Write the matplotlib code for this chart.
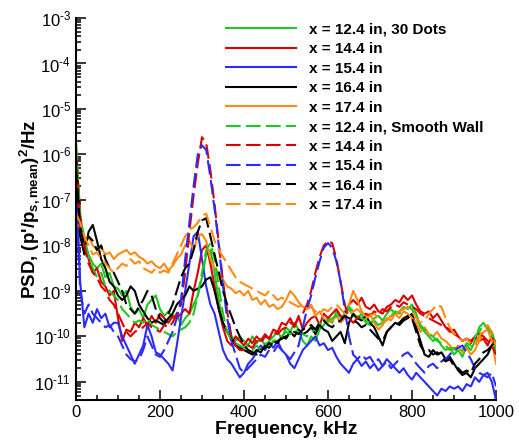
import numpy as np
import matplotlib
matplotlib.use('Agg')
import matplotlib.pyplot as plt
from matplotlib.ticker import MultipleLocator, LogLocator, FuncFormatter, FixedLocator

plt.rcParams['font.family'] = 'Liberation Sans'
plt.rcParams['mathtext.fontset'] = 'custom'
plt.rcParams['mathtext.rm'] = 'Liberation Sans'
plt.rcParams['mathtext.bf'] = 'Liberation Sans:bold'
plt.rcParams['mathtext.it'] = 'Liberation Sans:italic'

# frequency samples, kHz
freq = list(range(0, 1001, 10))

# log10 of PSD, one value per 10 kHz
# --- 30 dots ---
dots_124 = [-5.7, -7.6, -7.9, -8.2, -8.4, -8.5, -8.4, -8.7, -8.6, -8.9,
            -8.95, -9.1, -9.0, -9.35, -9.5, -9.4, -9.6, -9.3, -9.2, -9.1,
            -9.4, -9.55, -9.45, -9.6, -9.5, -9.75, -9.6, -9.5, -9.3, -9.1,
            -8.7, -8.2, -8.1, -8.6, -9.2, -9.7, -9.9, -10.0, -10.1, -10.0,
            -10.1, -10.2, -10.0, -10.15, -10.05, -10.2, -10.1, -10.0, -9.9, -10.05,
            -9.8, -9.9, -9.7, -9.85, -10.1, -10.2, -10.0, -10.1, -9.85, -9.75,
            -9.6, -9.7, -9.45, -9.6, -9.5, -9.4, -9.55, -9.6, -9.5, -9.7,
            -9.75, -9.6, -9.55, -9.65, -9.5, -9.4, -9.5, -9.45, -9.35, -9.4,
            -9.3, -9.5, -9.8, -9.9, -10.0, -10.1, -10.05, -10.2, -10.3, -10.25,
            -10.4, -10.3, -10.45, -10.2, -10.3, -10.1, -9.8, -9.7, -9.85, -9.9,
            -10.2]
dots_144 = [-5.9, -7.3, -8.1, -8.3, -8.6, -8.5, -8.8, -8.9, -9.1, -9.0,
            -9.6, -10.1, -9.85, -9.9, -9.7, -9.8, -9.6, -9.75, -9.55, -9.7,
            -9.5, -9.6, -9.7, -9.55, -9.6, -9.5, -9.4, -9.5, -9.0, -8.6,
            -8.1, -8.0, -8.4, -8.9, -9.4, -9.8, -10.1, -10.2, -10.0, -10.1,
            -10.2, -10.05, -10.15, -10.0, -10.1, -9.95, -10.05, -9.85, -9.9, -9.7,
            -9.75, -9.6, -9.8, -9.55, -9.85, -9.7, -9.6, -9.55, -9.75, -9.5,
            -9.6, -9.5, -9.4, -9.55, -9.6, -9.3, -9.2, -9.3, -9.15, -9.35,
            -9.4, -9.3, -9.45, -9.5, -9.35, -9.3, -9.2, -9.25, -9.1, -9.2,
            -9.1, -9.3, -9.45, -9.5, -9.45, -9.6, -9.5, -9.65, -9.8, -9.9,
            -9.85, -10.0, -10.1, -10.05, -10.15, -10.0, -10.1, -10.05, -10.2, -10.0,
            -10.3]
dots_154 = [-6.5, -8.8, -9.8, -9.5, -9.7, -9.4, -9.6, -9.5, -9.8, -9.7,
            -9.7, -10.0, -10.2, -10.4, -10.6, -10.4, -10.2, -9.75, -10.0, -10.35,
            -10.4, -10.5, -10.6, -10.75, -10.2, -9.6, -9.0, -8.4, -7.8, -7.7,
            -8.3, -8.9, -9.3, -9.5, -9.9, -10.3, -10.5, -10.6, -10.75, -10.9,
            -10.8, -10.6, -10.5, -10.35, -10.2, -10.3, -10.15, -10.25, -10.1, -10.3,
            -10.4, -10.6, -10.7, -10.5, -10.3, -10.2, -10.1, -10.0, -10.2, -10.15,
            -10.3, -10.25, -10.45, -10.6, -10.7, -10.8, -10.6, -10.5, -10.65, -10.55,
            -10.7, -10.6, -10.75, -10.65, -10.5, -10.6, -10.7, -10.8, -10.7, -10.85,
            -10.95, -10.8, -10.9, -11.0, -11.1, -11.2, -11.3, -11.15, -11.2, -11.1,
            -11.15, -11.1, -11.2, -11.05, -11.1, -10.9, -11.0, -10.85, -10.8, -11.0,
            -11.4]
dots_164 = [-6.0, -7.8, -8.2, -7.7, -7.55, -7.9, -8.3, -8.5, -8.8, -8.9,
            -9.1, -9.2, -9.1, -8.9, -9.0, -9.3, -9.45, -9.6, -9.7, -9.65,
            -9.7, -9.75, -9.6, -9.5, -9.3, -9.2, -9.1, -8.9, -9.0, -8.95,
            -8.9, -8.75, -8.7, -9.0, -9.4, -9.7, -9.9, -10.05, -10.2, -10.25,
            -10.3, -10.35, -10.4, -10.3, -10.35, -10.2, -10.25, -10.1, -10.15, -10.0,
            -10.05, -9.9, -10.0, -9.85, -9.95, -9.9, -9.8, -9.95, -9.75, -9.85,
            -9.9, -10.1, -10.0, -9.9, -10.15, -9.7, -9.5, -9.6, -9.65, -9.55,
            -9.7, -9.8, -10.0, -10.2, -9.9, -9.8, -9.7, -9.75, -9.65, -9.6,
            -9.5, -9.8, -10.1, -10.4, -10.45, -10.3, -10.4, -10.35, -10.5, -10.45,
            -10.6, -10.75, -10.85, -10.8, -10.9, -10.7, -10.6, -10.5, -10.4, -10.2,
            -10.1]
dots_174 = [-7.5, -7.6, -7.9, -7.8, -8.0, -8.1, -8.05, -8.2, -8.15, -8.3,
            -8.2, -8.15, -8.1, -8.2, -8.15, -8.25, -8.3, -8.4, -8.35, -8.45,
            -8.5, -8.4, -8.55, -8.45, -8.3, -8.2, -8.0, -7.9, -8.1, -7.8,
            -7.75, -7.9, -8.3, -8.5, -8.6, -8.75, -8.9, -8.95, -9.05, -9.0,
            -9.1, -9.0, -9.2, -9.15, -9.3, -9.2, -9.35, -9.3, -9.4, -9.35,
            -9.2, -9.0, -9.1, -9.25, -9.35, -9.4, -9.3, -9.55, -9.45, -9.6,
            -9.7, -9.65, -9.55, -9.7, -9.6, -9.3, -9.0, -9.2, -9.45, -9.55,
            -9.5, -9.7, -9.85, -9.75, -9.6, -9.65, -9.5, -9.6, -9.45, -9.5,
            -9.6, -9.7, -9.9, -9.8, -9.95, -10.0, -9.9, -10.05, -10.1, -10.2,
            -10.3, -10.2, -10.35, -10.25, -10.4, -10.3, -10.1, -9.9, -9.85, -10.1,
            -10.6]
# --- smooth wall ---
smooth_124 = [-5.8, -7.4, -7.8, -8.3, -8.5, -8.7, -8.6, -8.9, -9.0, -9.1,
              -9.2, -9.4, -9.5, -9.6, -9.7, -9.65, -9.7, -9.6, -9.75, -9.8,
              -9.85, -9.9, -9.95, -10.0, -9.9, -9.85, -9.8, -9.7, -9.5, -9.1,
              -8.6, -8.1, -7.95, -8.3, -8.9, -9.5, -9.9, -10.1, -10.15, -10.2,
              -10.25, -10.2, -10.3, -10.2, -10.3, -10.15, -10.2, -10.1, -10.05, -10.0,
              -9.9, -9.95, -9.85, -9.9, -9.95, -10.0, -9.9, -9.85, -9.7, -9.75,
              -9.65, -9.6, -9.55, -9.5, -9.45, -9.35, -9.45, -9.55, -9.6, -9.65,
              -9.7, -9.65, -9.75, -9.7, -9.6, -9.55, -9.45, -9.5, -9.4, -9.35,
              -9.4, -9.6, -9.75, -9.85, -9.95, -10.0, -10.1, -10.15, -10.2, -10.3,
              -10.25, -10.35, -10.3, -10.15, -10.2, -10.0, -9.9, -9.75, -9.8, -9.95,
              -10.3]
smooth_144 = [-6.2, -7.6, -8.0, -8.4, -8.6, -8.7, -8.9, -9.0, -9.2, -9.3,
              -9.5, -9.7, -9.9, -10.0, -9.9, -9.85, -9.8, -9.7, -9.8, -9.85,
              -9.9, -9.75, -9.8, -9.7, -9.5, -9.3, -8.6, -7.7, -6.9, -6.2,
              -5.62, -5.75, -6.35, -7.1, -7.95, -8.8, -9.45, -10.0, -10.2, -10.3,
              -10.3, -10.2, -10.25, -10.1, -10.15, -10.0, -10.05, -9.9, -9.95, -9.85,
              -9.8, -9.7, -9.75, -9.6, -9.5, -9.3, -9.0, -8.6, -8.25, -8.0,
              -7.9, -7.95, -8.3, -8.8, -9.3, -9.6, -9.7, -9.6, -9.55, -9.5,
              -9.55, -9.45, -9.5, -9.4, -9.45, -9.35, -9.3, -9.35, -9.25, -9.3,
              -9.35, -9.4, -9.5, -9.55, -9.6, -9.65, -9.7, -9.75, -9.8, -9.85,
              -9.95, -10.0, -10.1, -10.05, -10.1, -10.0, -9.95, -10.0, -10.1, -10.2,
              -10.4]
smooth_154 = [-6.8, -9.0, -9.5, -9.3, -9.5, -9.6, -9.7, -9.8, -9.75, -9.9,
              -10.0, -10.2, -10.4, -10.5, -10.55, -10.5, -10.3, -10.0, -10.2, -10.4,
              -10.45, -10.3, -10.1, -9.9, -9.6, -9.2, -8.3, -7.5, -6.7, -6.0,
              -5.8, -5.9, -6.5, -7.2, -8.0, -8.9, -9.6, -10.1, -10.4, -10.7,
              -10.8, -10.7, -10.6, -10.5, -10.4, -10.45, -10.3, -10.35, -10.2, -10.3,
              -10.4, -10.5, -10.35, -10.2, -9.8, -9.4, -9.1, -8.7, -8.35, -8.05,
              -7.95, -8.05, -8.35, -8.8, -9.4, -10.0, -10.4, -10.5, -10.4, -10.5,
              -10.45, -10.6, -10.5, -10.65, -10.55, -10.7, -10.6, -10.5, -10.4, -10.35,
              -10.45, -10.6, -10.7, -10.8, -10.65, -10.6, -10.7, -10.55, -10.5, -10.4,
              -10.3, -10.25, -10.2, -10.35, -10.5, -10.7, -10.8, -10.85, -10.9, -10.8,
              -11.1]
smooth_164 = [-6.3, -7.6, -8.0, -7.8, -7.9, -8.1, -8.0, -8.3, -8.5, -8.6,
              -8.8, -9.0, -9.3, -9.4, -9.5, -9.35, -9.2, -9.0, -9.1, -9.4,
              -9.6, -9.7, -9.5, -9.3, -9.0, -8.7, -8.5, -8.4, -8.1, -7.7,
              -7.45, -7.4, -7.8, -8.2, -8.6, -9.0, -9.3, -9.55, -9.8, -10.0,
              -10.2, -10.3, -10.35, -10.4, -10.3, -10.25, -10.15, -10.2, -10.1, -10.05,
              -10.0, -9.95, -9.9, -9.95, -9.85, -9.8, -9.75, -9.85, -9.7, -9.65,
              -9.75, -9.8, -9.7, -9.65, -9.55, -9.6, -9.65, -9.7, -9.8, -9.75,
              -9.85, -9.95, -10.05, -10.1, -9.9, -9.8, -9.75, -9.7, -9.6, -9.55,
              -9.6, -9.9, -10.2, -10.35, -10.3, -10.4, -10.35, -10.45, -10.55, -10.5,
              -10.65, -10.7, -10.8, -10.75, -10.8, -10.6, -10.5, -10.35, -10.3, -10.2,
              -10.1]
smooth_174 = [-7.3, -7.5, -7.8, -8.0, -8.2, -8.15, -8.3, -8.4, -8.5, -8.6,
              -8.5, -8.4, -8.45, -8.3, -8.4, -8.35, -8.5, -8.55, -8.6, -8.5,
              -8.6, -8.55, -8.6, -8.4, -8.2, -8.0, -7.8, -7.65, -7.6, -7.5,
              -7.35, -7.3, -7.6, -7.9, -8.1, -8.25, -8.4, -8.55, -8.7, -8.8,
              -8.85, -8.9, -8.95, -9.0, -9.05, -9.1, -9.0, -9.1, -9.2, -9.15,
              -9.2, -9.25, -9.3, -9.35, -9.3, -9.4, -9.35, -9.45, -9.5, -9.4,
              -9.45, -9.35, -9.3, -9.4, -9.5, -9.55, -9.45, -9.4, -9.5, -9.6,
              -9.55, -9.5, -9.6, -9.7, -9.65, -9.55, -9.5, -9.45, -9.4, -9.35,
              -9.45, -9.6, -9.7, -9.65, -9.5, -9.4, -9.3, -9.35, -9.6, -9.8,
              -9.95, -10.0, -10.1, -10.05, -10.15, -10.2, -10.0, -9.85, -9.75, -9.9,
              -10.2]

labels = ['x = 12.4 in, 30 Dots', 'x = 14.4 in', 'x = 15.4 in', 'x = 16.4 in', 'x = 17.4 in',
          'x = 12.4 in, Smooth Wall', 'x = 14.4 in', 'x = 15.4 in', 'x = 16.4 in', 'x = 17.4 in']
series = [dots_124, dots_144, dots_154, dots_164, dots_174,
          smooth_124, smooth_144, smooth_154, smooth_164, smooth_174]
colors = ['#1ec81e', '#dd0000', '#2b2bff', '#000000', '#ff8a14'] * 2
styles = ['-'] * 5 + [(0, (7, 2.6))] * 5

fig = plt.figure(figsize=(5.19, 4.43), dpi=100)
ax = fig.add_axes([0.1464, 0.0971, 0.8093, 0.8623])

for vals, c, ls, lab in zip(series, colors, styles, labels):
    ax.plot(freq, 10 ** np.array(vals), color=c, linestyle=ls, lw=1.5, label=lab)

ax.set_yscale('log')
ax.set_xlim(0, 1000)
ax.set_ylim(4e-12, 1e-3)
ax.xaxis.set_major_locator(MultipleLocator(200))
ax.xaxis.set_minor_locator(MultipleLocator(50))
ax.yaxis.set_major_locator(FixedLocator([10.0 ** -k for k in range(3, 12)]))
ax.yaxis.set_minor_locator(LogLocator(base=10, subs=np.arange(2, 10), numticks=20))
# short hyphen in the exponent, like the original
ax.yaxis.set_major_formatter(FuncFormatter(
    lambda v, p: r'$\mathregular{10^{\text{-}%d}}$' % round(-np.log10(v))))

for s in ['top', 'right']:
    ax.spines[s].set_visible(False)
for s in ['left', 'bottom']:
    ax.spines[s].set_linewidth(1.5)
ax.tick_params(which='both', direction='in', labelsize=12, width=1.1)
ax.tick_params(which='major', length=7)
ax.tick_params(which='minor', length=3.5)

ax.set_xlabel('Frequency, kHz', fontsize=14, fontweight='bold', labelpad=1)
ax.set_ylabel(r"PSD, (p'/p$_{\mathbf{s,mean}}$)$^{\mathbf{2}}$/Hz", fontsize=13.5,
              fontweight='bold', labelpad=-6)

ax.legend(loc='upper left', bbox_to_anchor=(0.4355, 0.949), bbox_transform=fig.transFigure,
          frameon=False, prop={'weight': 'bold', 'size': 11}, handlelength=4.6,
          handletextpad=0.85, labelspacing=0.36, borderpad=0, borderaxespad=0)

plt.savefig('out.png')
plt.close()
